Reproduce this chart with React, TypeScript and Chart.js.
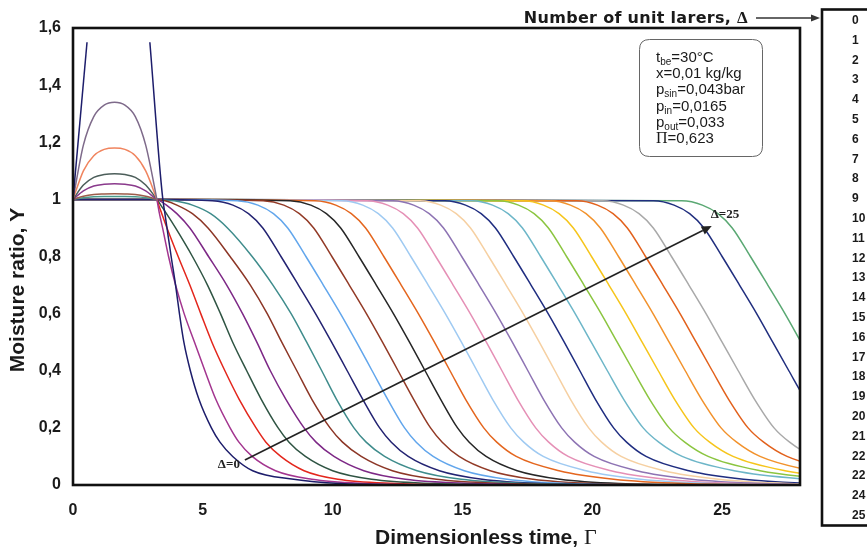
import React, { useEffect, useRef } from "react";
import { Chart, registerables } from "chart.js";

Chart.register(...registerables);

const SANS = '"Liberation Sans", Arial, Helvetica, sans-serif';
const WIDE = '"DejaVu Sans", "Liberation Sans", Arial, sans-serif';
const SERIF = '"Liberation Serif", "Times New Roman", serif';

// axis ticks
const xTicks = [0, 5, 10, 15, 20, 25];
const yTicks = [0, 0.2, 0.4, 0.6, 0.8, 1, 1.2, 1.4, 1.6];

// legend labels as printed in the figure
const legendLabels = ["0", "1", "2", "3", "4", "5", "6", "7", "8", "9", "10", "11", "12", "13", "14", "15", "16", "17", "18", "19", "20", "21", "22", "22", "24", "25"];

// visible curves (number of unit layers)
const deltas = [0, 1, 2, 3, 4, 5, 6, 7, 8, 9, 10, 11, 12, 13, 14, 15, 16, 17, 18, 19, 20, 21, 22, 24, 25];

const lineColors = [
  "#1d1d6b", "#a3358f", "#e3261c", "#2f5443", "#7d2886", "#8c3626", "#3f8c8c",
  "#232372", "#62a6ec", "#923a26", "#262626", "#e4661e", "#9fcaf2", "#e590b6",
  "#8d73b3", "#f6d0a2", "#1f2d80", "#6db6c8", "#8bc540", "#f6c51b", "#f2922c",
  "#e2611c", "#a9a9a9", "#202e7e", "#5aa873",
];
// colour of the early hump part (Δ = 1..6)
const humpColors = ["#7e6a8a", "#f0845e", "#4c5e5a", "#8a3a8c", "#9c5c4a", "#4a9c8c"];

// hump region, Γ from 0 to 2.8 (curves meet again at Γ ≈ 3.23)
const humpGamma = [0, 0.4, 0.8, 1.2, 1.6, 2.0, 2.4, 2.8];
const humpValues = [
  [1, 1.19, 1.29, 1.33, 1.34, 1.33, 1.29, 1.19],
  [1, 1.1, 1.153, 1.175, 1.18, 1.175, 1.153, 1.1],
  [1, 1.05, 1.077, 1.087, 1.09, 1.087, 1.077, 1.05],
  [1, 1.03, 1.047, 1.053, 1.055, 1.053, 1.047, 1.03],
  [1, 1.011, 1.017, 1.019, 1.02, 1.019, 1.017, 1.011],
  [1, 1.006, 1.009, 1.01, 1.01, 1.01, 1.009, 1.006],
];

// Δ = 0 leaves the plot above 1.6
const d0RiseGamma = [0, 0.54];
const d0RiseY = [1, 1.55];
const d0FallGamma = [2.96];
const d0FallY = [1.55];

// Y levels of the drying curves, and Γ at which each curve reaches them
const yLevels = [1, 0.995, 0.98, 0.95, 0.9, 0.8, 0.7, 0.6, 0.5, 0.4, 0.3, 0.2, 0.15, 0.1, 0.05, 0.02, 0.005, 0];
const dropGammas = [
  [3.46, 3.47, 3.49, 3.54, 3.62, 3.78, 3.95, 4.1, 4.27, 4.52, 4.85, 5.33, 5.66, 6.15, 6.92, 8.5, 10.3, 13],
  [3.23, 3.24, 3.27, 3.33, 3.45, 3.68, 3.95, 4.28, 4.68, 5.08, 5.5, 6.05, 6.39, 6.9, 7.8, 9.2, 11.3, 14],
  [3.23, 3.25, 3.3, 3.42, 3.62, 4.05, 4.5, 4.92, 5.35, 5.85, 6.4, 7.05, 7.43, 8.0, 8.9, 10.2, 12.4, 15],
  [3.23, 3.27, 3.38, 3.6, 3.95, 4.6, 5.18, 5.68, 6.15, 6.69, 7.25, 7.9, 8.32, 8.95, 10.0, 11.5, 13.9, 17],
  [3.23, 3.35, 3.6, 4.0, 4.5, 5.22, 5.92, 6.53, 7.08, 7.6, 8.2, 8.9, 9.36, 10.05, 11.2, 12.8, 15.4, 18],
  [3.23, 3.55, 4.0, 4.6, 5.2, 6.05, 6.83, 7.48, 8.04, 8.62, 9.2, 9.9, 10.38, 11.1, 12.3, 14.0, 16.7, 20],
  [3.23, 3.9, 4.6, 5.3, 5.95, 6.9, 7.7, 8.4, 9.0, 9.58, 10.15, 10.82, 11.29, 12.0, 13.25, 14.95, 17.7, 21],
  [3.23, 5.36, 6.16, 6.76, 7.31, 8.01, 8.68, 9.34, 9.96, 10.56, 11.16, 11.81, 12.26, 12.91, 14.11, 15.76, 18.06, 21.96],
  [3.23, 6.32, 7.12, 7.72, 8.27, 8.97, 9.64, 10.3, 10.92, 11.52, 12.12, 12.77, 13.22, 13.87, 15.07, 16.72, 19.02, 22.92],
  [3.23, 7.32, 8.12, 8.72, 9.27, 9.97, 10.64, 11.3, 11.92, 12.52, 13.12, 13.77, 14.22, 14.87, 16.07, 17.72, 20.02, 23.92],
  [3.23, 8.36, 9.16, 9.76, 10.31, 11.01, 11.68, 12.34, 12.96, 13.56, 14.16, 14.81, 15.26, 15.91, 17.11, 18.76, 21.06, 24.96],
  [3.23, 9.32, 10.12, 10.72, 11.27, 11.97, 12.64, 13.3, 13.92, 14.52, 15.12, 15.82, 16.32, 17.07, 18.72, 20.82, 23.52, 27.92],
  [3.23, 10.36, 11.16, 11.76, 12.31, 13.01, 13.68, 14.34, 14.96, 15.56, 16.16, 16.86, 17.36, 18.11, 19.76, 21.86, 24.56, 28.96],
  [3.23, 11.32, 12.12, 12.72, 13.27, 13.97, 14.64, 15.3, 15.92, 16.52, 17.12, 17.82, 18.32, 19.07, 20.72, 22.82, 25.52, 29.92],
  [3.23, 12.32, 13.12, 13.72, 14.27, 14.97, 15.64, 16.3, 16.92, 17.52, 18.12, 18.82, 19.32, 20.07, 21.72, 23.82, 26.52, 30.92],
  [3.23, 13.36, 14.16, 14.76, 15.31, 16.01, 16.68, 17.34, 17.96, 18.56, 19.16, 19.86, 20.36, 21.11, 22.76, 24.86, 27.56, 31.96],
  [3.23, 14.32, 15.12, 15.72, 16.27, 16.97, 17.64, 18.3, 18.92, 19.52, 20.12, 20.82, 21.32, 22.07, 23.72, 25.82, 28.52, 32.92],
  [3.23, 15.36, 16.16, 16.76, 17.31, 18.01, 18.68, 19.34, 19.96, 20.58, 21.21, 21.96, 22.56, 23.46, 25.46, 28.26, 31.46, 35.96],
  [3.23, 16.36, 17.16, 17.76, 18.31, 19.01, 19.68, 20.34, 20.96, 21.58, 22.21, 22.96, 23.56, 24.46, 26.46, 29.26, 32.46, 36.96],
  [3.23, 17.32, 18.12, 18.72, 19.27, 19.97, 20.64, 21.3, 21.92, 22.54, 23.17, 23.92, 24.52, 25.42, 27.42, 30.22, 33.42, 37.92],
  [3.23, 18.36, 19.16, 19.76, 20.31, 21.01, 21.68, 22.34, 22.96, 23.58, 24.21, 24.96, 25.56, 26.46, 28.46, 31.26, 34.46, 38.96],
  [3.23, 19.4, 20.2, 20.8, 21.35, 22.05, 22.72, 23.38, 24.0, 24.62, 25.25, 26.0, 26.6, 27.5, 29.5, 32.3, 35.5, 40],
  [3.23, 20.4, 21.2, 21.8, 22.35, 23.05, 23.72, 24.38, 25.0, 25.62, 26.25, 27.0, 27.6, 28.5, 30.5, 33.3, 36.5, 41],
  [3.23, 22.35, 23.15, 23.75, 24.3, 25.0, 25.67, 26.33, 26.95, 27.57, 28.2, 28.95, 29.55, 30.45, 32.45, 35.25, 38.45, 42.95],
  [3.23, 23.44, 24.24, 24.84, 25.39, 26.09, 26.76, 27.42, 28.04, 28.66, 29.29, 30.04, 30.64, 31.54, 33.54, 36.34, 39.54, 44.04],
];

// annotation arrow from Δ=0 to Δ=25 (data coordinates)
const arrowStart = [6.62, 0.0875];
const arrowEnd = [24.6, 0.907];

const paramLines = [
  [{ t: "t" }, { t: "be", sub: true }, { t: "=30°C" }],
  [{ t: "x=0,01 kg/kg" }],
  [{ t: "p" }, { t: "sin", sub: true }, { t: "=0,043bar" }],
  [{ t: "p" }, { t: "in", sub: true }, { t: "=0,0165" }],
  [{ t: "p" }, { t: "out", sub: true }, { t: "=0,033" }],
  [{ t: "Π", serif: true }, { t: "=0,623" }],
];

function arrow(ctx: CanvasRenderingContext2D, x0: number, y0: number, x1: number, y1: number, hl: number, hw: number) {
  const ang = Math.atan2(y1 - y0, x1 - x0);
  const bx = x1 - hl * Math.cos(ang);
  const by = y1 - hl * Math.sin(ang);
  ctx.beginPath();
  ctx.moveTo(x0, y0);
  ctx.lineTo(bx, by);
  ctx.stroke();
  ctx.beginPath();
  ctx.moveTo(x1, y1);
  ctx.lineTo(bx + hw * Math.sin(ang), by - hw * Math.cos(ang));
  ctx.lineTo(bx - hw * Math.sin(ang), by + hw * Math.cos(ang));
  ctx.closePath();
  ctx.fill();
}

function roundRect(ctx: CanvasRenderingContext2D, x: number, y: number, w: number, h: number, r: number) {
  ctx.beginPath();
  ctx.moveTo(x + r, y);
  ctx.lineTo(x + w - r, y);
  ctx.quadraticCurveTo(x + w, y, x + w, y + r);
  ctx.lineTo(x + w, y + h - r);
  ctx.quadraticCurveTo(x + w, y + h, x + w - r, y + h);
  ctx.lineTo(x + r, y + h);
  ctx.quadraticCurveTo(x, y + h, x, y + h - r);
  ctx.lineTo(x, y + r);
  ctx.quadraticCurveTo(x, y, x + r, y);
  ctx.closePath();
}

const annotations = {
  id: "annotations",
  afterDraw(chart: any) {
    const { ctx, chartArea: a, scales } = chart;
    const xs = scales.x;
    const ys = scales.y;
    ctx.save();

    // plot frame
    ctx.strokeStyle = "#111";
    ctx.lineWidth = 2.6;
    ctx.strokeRect(a.left, a.top, a.right - a.left, a.bottom - a.top);

    // Δ arrow
    ctx.strokeStyle = "#222";
    ctx.fillStyle = "#222";
    ctx.lineWidth = 1.6;
    arrow(
      ctx,
      xs.getPixelForValue(arrowStart[0]), ys.getPixelForValue(arrowStart[1]),
      xs.getPixelForValue(arrowEnd[0]), ys.getPixelForValue(arrowEnd[1]),
      10, 4.5
    );
    ctx.font = `bold 13px ${SERIF}`;
    ctx.textBaseline = "alphabetic";
    ctx.textAlign = "right";
    ctx.fillText("Δ=0", xs.getPixelForValue(arrowStart[0]) - 5, ys.getPixelForValue(arrowStart[1]) + 8);
    ctx.textAlign = "left";
    ctx.fillText("Δ=25", xs.getPixelForValue(arrowEnd[0]) - 1, ys.getPixelForValue(arrowEnd[1]) - 8);

    // parameter box
    ctx.strokeStyle = "#666";
    ctx.lineWidth = 1;
    roundRect(ctx, 639.5, 39.5, 123, 117, 10);
    ctx.fillStyle = "#fff";
    ctx.fill();
    ctx.stroke();
    ctx.fillStyle = "#1a1a1a";
    paramLines.forEach((parts, i) => {
      let px = 656;
      const base = 62 + i * 16.2;
      parts.forEach((p: any) => {
        ctx.font = p.sub ? `10px ${SANS}` : p.serif ? `16px ${SERIF}` : `15px ${SANS}`;
        ctx.fillText(p.t, px, base + (p.sub ? 3 : 0));
        px += ctx.measureText(p.t).width;
      });
    });

    // axis titles
    ctx.fillStyle = "#1a1a1a";
    ctx.font = `bold 21px ${SANS}`;
    const xt = "Dimensionless time, ";
    ctx.textAlign = "left";
    ctx.fillText(xt, 375, 544);
    const xtw = ctx.measureText(xt).width;
    ctx.font = `22px ${SERIF}`;
    ctx.fillText("Γ", 375 + xtw, 544);

    ctx.save();
    ctx.translate(24, 290);
    ctx.rotate(-Math.PI / 2);
    ctx.textAlign = "center";
    ctx.font = `bold 21px ${SANS}`;
    ctx.fillText("Moisture ratio, Y", 0, 0);
    ctx.restore();

    // legend title + arrow
    (ctx as any).letterSpacing = "0.3px";
    ctx.font = `bold 16px ${WIDE}`;
    const lt = "Number of unit larers, ";
    const ltw = ctx.measureText(lt).width;
    ctx.font = `bold 17px ${SERIF}`;
    const dw = ctx.measureText("Δ").width;
    const lx = 748 - ltw - dw;
    ctx.font = `bold 16px ${WIDE}`;
    ctx.fillText(lt, lx, 23);
    ctx.font = `bold 17px ${SERIF}`;
    ctx.fillText("Δ", lx + ltw, 23);
    (ctx as any).letterSpacing = "0px";
    ctx.strokeStyle = "#333";
    ctx.fillStyle = "#333";
    ctx.lineWidth = 1.3;
    arrow(ctx, 756, 18, 820, 18, 9, 3.5);

    // legend box
    ctx.strokeStyle = "#111";
    ctx.lineWidth = 2.6;
    ctx.strokeRect(822, 9.5, 80, 516);
    ctx.fillStyle = "#1a1a1a";
    ctx.font = `bold 12px ${SANS}`;
    ctx.textBaseline = "middle";
    ctx.textAlign = "left";
    legendLabels.forEach((lab, i) => {
      ctx.fillText(lab, 852, 20.7 + i * 19.8);
    });

    ctx.restore();
  },
};

function buildDatasets() {
  const sets: any[] = [];
  deltas.forEach((d, i) => {
    const color = lineColors[i];
    const drop = yLevels.map((y, k) => ({ x: dropGammas[i][k], y }));
    if (i === 0) {
      sets.push({
        data: d0RiseGamma.map((g, k) => ({ x: g, y: d0RiseY[k] })),
        borderColor: color,
        cubicInterpolationMode: "default",
        tension: 0,
      });
      sets.push({
        data: [...d0FallGamma.map((g, k) => ({ x: g, y: d0FallY[k] })), ...drop],
        borderColor: color,
      });
      return;
    }
    let head: { x: number; y: number }[];
    let segment: any = undefined;
    if (i <= humpValues.length) {
      head = humpGamma.map((g, k) => ({ x: g, y: humpValues[i - 1][k] }));
      const hc = humpColors[i - 1];
      segment = { borderColor: (c: any) => (c.p1.parsed.x <= 3.24 ? hc : undefined) };
    } else {
      head = [{ x: 0, y: 1 }];
    }
    sets.push({ data: [...head, ...drop], borderColor: color, segment });
  });
  return sets;
}

export default function App() {
  const ref = useRef<HTMLCanvasElement | null>(null);

  useEffect(() => {
    const canvas = ref.current;
    if (!canvas) return;
    const tickFont = { family: SANS, size: 16, weight: "bold" as const };
    const chart = new Chart(canvas, {
      type: "line",
      data: { datasets: buildDatasets() },
      options: {
        animation: false,
        responsive: false,
        maintainAspectRatio: false,
        devicePixelRatio: 1,
        layout: { padding: { left: 0, top: 28, right: 67, bottom: 0 } },
        plugins: { legend: { display: false }, tooltip: { enabled: false } },
        elements: {
          point: { radius: 0, hoverRadius: 0 },
          line: { borderWidth: 1.5, cubicInterpolationMode: "monotone", fill: false },
        },
        scales: {
          x: {
            type: "linear",
            min: 0,
            max: 28,
            border: { display: false },
            grid: { display: false, drawTicks: false },
            afterBuildTicks: (s: any) => {
              s.ticks = xTicks.map((v) => ({ value: v }));
            },
            afterFit: (s: any) => {
              s.height = 65;
            },
            ticks: {
              padding: 16,
              color: "#1a1a1a",
              font: tickFont,
              maxRotation: 0,
              callback: (v: any) => String(v),
            },
          },
          y: {
            type: "linear",
            min: 0,
            max: 1.6,
            border: { display: false },
            grid: { display: false, drawTicks: false },
            afterBuildTicks: (s: any) => {
              s.ticks = yTicks.map((v) => ({ value: v }));
            },
            afterFit: (s: any) => {
              s.width = 73;
            },
            ticks: {
              padding: 12,
              color: "#1a1a1a",
              font: tickFont,
              callback: (v: any) => String(Math.round(Number(v) * 10) / 10).replace(".", ","),
            },
          },
        },
      } as any,
      plugins: [annotations],
    });
    return () => chart.destroy();
  }, []);

  return (
    <div style={{ position: "absolute", left: 0, top: 0, width: 867, height: 550, background: "#fff" }}>
      <canvas ref={ref} width={867} height={550} style={{ width: 867, height: 550, display: "block" }} />
    </div>
  );
}
